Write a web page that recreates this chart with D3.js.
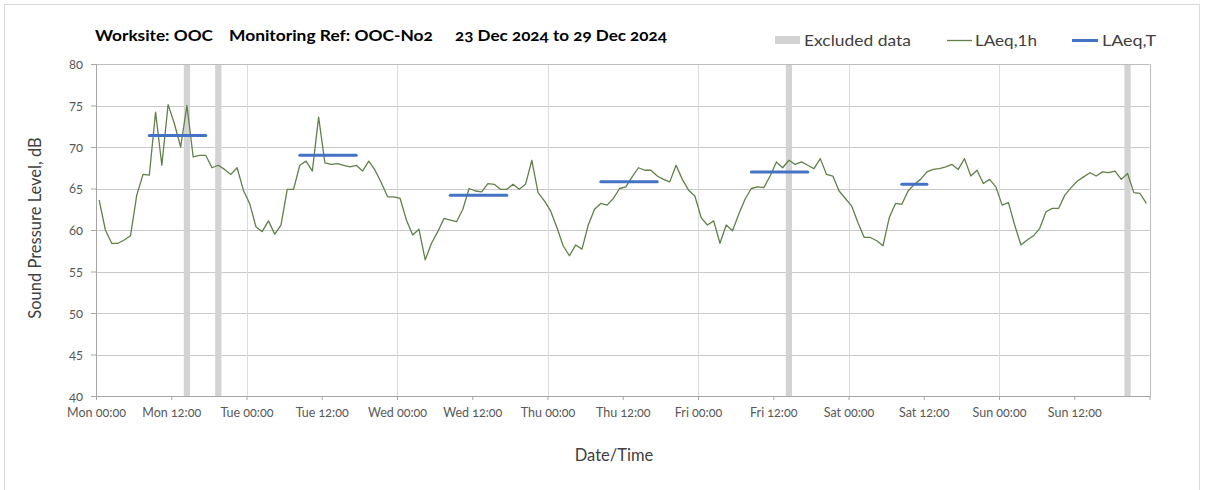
<!DOCTYPE html>
<html>
<head>
<meta charset="utf-8">
<script src="https://cdn.jsdelivr.net/npm/d3@7"></script>
<style>
  html, body { margin: 0; padding: 0; background: #ffffff; }
  svg { display: block; font-family: Lato, "Open Sans", sans-serif; }
  .num { font-feature-settings: "onum" 1; font-variant-numeric: oldstyle-nums; }
</style>
</head>
<body>
<svg id="chart" width="1208" height="490"></svg>
<script>
// Hourly LAeq,1h levels (dB) from Mon 00:00 to Sun 23:00
const laeq1h = [
  63.6, 60.0, 58.4, 58.4, 58.8, 59.3, 64.2, 66.7, 66.6, 74.2, 67.8, 75.1,
  72.8, 70.0, 75.0, 68.8, 69.0, 69.0, 67.5, 67.8, 67.3, 66.7, 67.5, 64.8,
  63.2, 60.4, 59.8, 61.1, 59.5, 60.6, 64.9, 64.9, 67.8, 68.3, 67.1, 73.6,
  68.1, 67.9, 68.0, 67.8, 67.6, 67.8, 67.1, 68.3, 67.2, 65.7, 64.0, 64.0,
  63.8, 61.2, 59.4, 60.1, 56.4, 58.4, 59.8, 61.4, 61.2, 61.0, 62.5, 65.0,
  64.7, 64.6, 65.6, 65.5, 64.9, 64.9, 65.5, 64.9, 65.5, 68.4, 64.5, 63.5,
  62.3, 60.3, 58.1, 56.9, 58.2, 57.7, 60.6, 62.5, 63.2, 63.0, 63.8, 65.0,
  65.2, 66.4, 67.5, 67.2, 67.2, 66.5, 66.1, 65.8, 67.8, 66.1, 64.8, 64.1,
  61.5, 60.6, 61.1, 58.4, 60.6, 59.9, 61.9, 63.7, 65.0, 65.2, 65.1, 66.5,
  68.2, 67.5, 68.4, 67.9, 68.2, 67.8, 67.4, 68.6, 66.7, 66.5, 64.7, 63.8,
  62.9, 60.9, 59.1, 59.1, 58.7, 58.1, 61.5, 63.2, 63.1, 64.7, 65.5, 66.1,
  67.0, 67.3, 67.4, 67.6, 67.9, 67.3, 68.6, 66.5, 67.2, 65.6, 66.1, 65.2,
  63.0, 63.3, 60.6, 58.2, 58.8, 59.3, 60.2, 62.2, 62.6, 62.6, 64.2, 65.1,
  65.9, 66.4, 66.9, 66.5, 67.0, 66.9, 67.1, 66.1, 66.8, 64.5, 64.4, 63.2
];

// Assessment periods (hour offsets from Mon 00:00) and their LAeq,T
const periodStart = [8, 32, 56, 80, 104, 128];
const periodEnd   = [18, 42, 66, 90, 114, 133];
const periodLevel = [71.4, 69.0, 64.2, 65.8, 67.0, 65.5];

// Hours removed from the assessment (start of each excluded hour)
const excludedHours = [14, 19, 110, 164];

const dayNames = ["Mon", "Tue", "Wed", "Thu", "Fri", "Sat", "Sun"];
const tickLabels = dayNames.flatMap(d => [d + " 00:00", d + " 12:00"]);
const yTicks = [40, 45, 50, 55, 60, 65, 70, 75, 80];

const svg = d3.select("#chart");

// chart frame
svg.append("rect")
  .attr("x", 4.5).attr("y", 4.5)
  .attr("width", 1195).attr("height", 500)
  .attr("fill", "none").attr("stroke", "#d9d9d9");

const x = d3.scaleLinear().domain([0, 168]).range([96, 1149.5]);
const y = d3.scaleLinear().domain([40, 80]).range([396, 64]);

const plot = svg.append("g");

// horizontal gridlines
plot.selectAll("line.hgrid")
  .data(yTicks.filter(v => v > 40 && v < 80))
  .join("line")
  .attr("class", "hgrid")
  .attr("x1", x(0)).attr("x2", x(168))
  .attr("y1", d => Math.round(y(d)) + 0.5).attr("y2", d => Math.round(y(d)) + 0.5)
  .attr("stroke", "#c9c9c9").attr("stroke-width", 1);

// vertical day gridlines
plot.selectAll("line.vgrid")
  .data(d3.range(24, 168, 24))
  .join("line")
  .attr("class", "vgrid")
  .attr("x1", d => Math.round(x(d)) + 0.5).attr("x2", d => Math.round(x(d)) + 0.5)
  .attr("y1", y(80)).attr("y2", y(40))
  .attr("stroke", "#dcdcdc").attr("stroke-width", 1);

// excluded hours
plot.selectAll("rect.excluded")
  .data(excludedHours)
  .join("rect")
  .attr("class", "excluded")
  .attr("x", d => x(d))
  .attr("width", d => x(d + 1) - x(d))
  .attr("y", y(80))
  .attr("height", y(40) - y(80))
  .attr("fill", "#d3d3d3");

// plot border: top and right
plot.append("line")
  .attr("x1", x(0)).attr("x2", x(168))
  .attr("y1", Math.round(y(80)) + 0.5).attr("y2", Math.round(y(80)) + 0.5)
  .attr("stroke", "#bdbdbd");
plot.append("line")
  .attr("x1", Math.round(x(168)) + 0.5).attr("x2", Math.round(x(168)) + 0.5)
  .attr("y1", y(80)).attr("y2", y(40))
  .attr("stroke", "#bdbdbd");

// hourly line, each value plotted at the middle of its hour
const line = d3.line()
  .x((d, i) => x(i + 0.5))
  .y(d => y(d));
plot.append("path")
  .datum(laeq1h)
  .attr("d", line)
  .attr("fill", "none")
  .attr("stroke", "#62804a")
  .attr("stroke-width", 1.3)
  .attr("stroke-linejoin", "round");

// LAeq,T over each assessment period
plot.selectAll("line.period")
  .data(periodLevel)
  .join("line")
  .attr("class", "period")
  .attr("x1", (d, i) => x(periodStart[i] + 0.5))
  .attr("x2", (d, i) => x(periodEnd[i] - 0.5))
  .attr("y1", d => y(d)).attr("y2", d => y(d))
  .attr("stroke", "#4472c4")
  .attr("stroke-width", 3)
  .attr("stroke-linecap", "round");

// axes
const xAxis = d3.axisBottom(x)
  .tickValues(d3.range(0, 169, 12))
  .tickSize(4)
  .tickSizeOuter(0)
  .tickPadding(8)
  .tickFormat((d, i) => tickLabels[i] || "");
const gx = svg.append("g")
  .attr("transform", `translate(0,${y(40)})`)
  .call(xAxis);
gx.select(".domain").attr("stroke", "#a6a6a6");
gx.selectAll(".tick line").attr("stroke", "#a6a6a6");
gx.selectAll(".tick text")
  .attr("class", "num")
  .attr("fill", "#595959")
  .style("font-size", "12.5px")
  .style("font-family", "Lato, sans-serif");

const yAxis = d3.axisLeft(y)
  .tickValues(yTicks)
  .tickSize(5)
  .tickSizeOuter(0)
  .tickPadding(8);
const gy = svg.append("g")
  .attr("transform", `translate(${x(0)},0)`)
  .call(yAxis);
gy.select(".domain").attr("stroke", "#a6a6a6");
gy.selectAll(".tick line").attr("stroke", "#a6a6a6");
gy.selectAll(".tick text")
  .attr("class", "num")
  .attr("fill", "#595959")
  .style("font-size", "13px")
  .style("font-family", "Lato, sans-serif");

// axis titles
svg.append("text")
  .attr("transform", `translate(41,${(y(40) + y(80)) / 2 - 2}) rotate(-90)`)
  .attr("text-anchor", "middle")
  .attr("fill", "#404040")
  .style("font-size", "16.5px")
  .text("Sound Pressure Level, dB");

svg.append("text")
  .attr("x", 614).attr("y", 461)
  .attr("text-anchor", "middle")
  .attr("fill", "#404040")
  .style("font-size", "16.5px")
  .text("Date/Time");

// title
const titleParts = [
  { text: "Worksite: OOC", x: 95, w: 118 },
  { text: "Monitoring Ref: OOC-No2", x: 229, w: 204 },
  { text: "23 Dec 2024 to 29 Dec 2024", x: 455, w: 212 }
];
svg.selectAll("text.title")
  .data(titleParts)
  .join("text")
  .attr("class", "title num")
  .attr("x", d => d.x).attr("y", 41)
  .attr("textLength", d => d.w)
  .attr("lengthAdjust", "spacingAndGlyphs")
  .attr("fill", "#000000")
  .style("font-size", "16px")
  .style("font-weight", "bold")
  .text(d => d.text);

// legend
const legend = svg.append("g").attr("fill", "#404040").style("font-size", "16px");
legend.append("rect")
  .attr("x", 775).attr("y", 36).attr("width", 25).attr("height", 8)
  .attr("fill", "#d3d3d3");
legend.append("text").attr("x", 804).attr("y", 46)
  .attr("textLength", 107).attr("lengthAdjust", "spacingAndGlyphs")
  .text("Excluded data");
legend.append("line")
  .attr("x1", 947).attr("x2", 972).attr("y1", 40.5).attr("y2", 40.5)
  .attr("stroke", "#62804a").attr("stroke-width", 1.3);
legend.append("text").attr("x", 975).attr("y", 46)
  .attr("textLength", 62).attr("lengthAdjust", "spacingAndGlyphs")
  .text("LAeq,1h");
legend.append("line")
  .attr("x1", 1072).attr("x2", 1098).attr("y1", 40.5).attr("y2", 40.5)
  .attr("stroke", "#4472c4").attr("stroke-width", 3);
legend.append("text").attr("x", 1102).attr("y", 46)
  .attr("textLength", 54).attr("lengthAdjust", "spacingAndGlyphs")
  .text("LAeq,T");
</script>
</body>
</html>
